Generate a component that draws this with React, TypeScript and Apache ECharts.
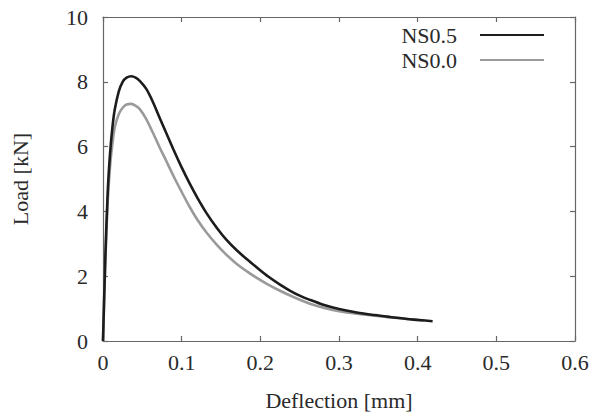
import React, { useEffect, useRef } from "react";
import * as echarts from "echarts";

const seriesNames = ["NS0.5", "NS0.0"];
const xTicks = { min: 0, max: 0.6, interval: 0.1 };
const yTicks = { min: 0, max: 10, interval: 2 };

const ns05: [number, number][] = [
  [0, 0], [0.003, 2.6], [0.006, 4.6], [0.009, 5.8], [0.012, 6.6], [0.015, 7.15],
  [0.02, 7.7], [0.025, 8.0], [0.03, 8.13], [0.036, 8.17], [0.042, 8.12], [0.047, 8.02],
  [0.055, 7.78], [0.063, 7.4], [0.0725, 6.86], [0.08, 6.44], [0.0894, 5.92], [0.1, 5.36],
  [0.1106, 4.84], [0.12, 4.42], [0.1318, 3.94], [0.145, 3.48], [0.157, 3.12], [0.17, 2.8],
  [0.183, 2.52], [0.196, 2.26], [0.21, 1.99], [0.225, 1.74], [0.238, 1.55], [0.25, 1.4],
  [0.263, 1.27], [0.28, 1.12], [0.3, 0.99], [0.3225, 0.88], [0.345, 0.8], [0.365, 0.74],
  [0.39, 0.67], [0.419, 0.61],
];

const ns00: [number, number][] = [
  [0, 0], [0.003, 2.5], [0.006, 4.3], [0.009, 5.4], [0.012, 6.1], [0.015, 6.6],
  [0.02, 7.0], [0.025, 7.2], [0.03, 7.3], [0.036, 7.32], [0.042, 7.25], [0.047, 7.15],
  [0.055, 6.85], [0.063, 6.45], [0.0725, 5.95], [0.08, 5.58], [0.0894, 5.1], [0.1, 4.6],
  [0.1106, 4.12], [0.12, 3.74], [0.1318, 3.34], [0.145, 2.96], [0.157, 2.66], [0.17, 2.38],
  [0.183, 2.15], [0.196, 1.94], [0.21, 1.74], [0.225, 1.55], [0.24, 1.38], [0.263, 1.15],
  [0.28, 1.03], [0.3, 0.92], [0.3225, 0.84], [0.345, 0.78], [0.365, 0.73], [0.39, 0.67],
  [0.407, 0.63],
];

const FONT = "'Liberation Serif', 'Times New Roman', Times, serif";
const TEXT = "#2a2a2a";
const AXIS = "#666";

export default function App() {
  const ref = useRef<HTMLDivElement>(null);
  useEffect(() => {
    if (!ref.current) return;
    const chart = echarts.init(ref.current, undefined, { renderer: "svg" });
    const axisCommon = {
      type: "value" as const,
      splitLine: { show: false },
      axisLine: { show: true, onZero: false, lineStyle: { color: AXIS, width: 1.2 } },
      axisTick: { show: true, inside: true, length: 5, lineStyle: { color: AXIS, width: 1.2 } },
    };
    const labelStyle = { color: TEXT, fontFamily: FONT, fontSize: 22 };
    chart.setOption({
      animation: false,
      backgroundColor: "#fff",
      grid: { left: 103, right: 20, top: 17, bottom: 73 },
      legend: {
        right: 46,
        top: 19,
        orient: "vertical",
        align: "right",
        itemWidth: 64,
        itemHeight: 14,
        itemGap: 3,
        icon: "path://M0,6 L64,6 L64,8 L0,8 Z",
        textStyle: { ...labelStyle, padding: [0, 18, 0, 0] },
        data: seriesNames,
      },
      xAxis: [
        {
          ...axisCommon,
          ...xTicks,
          position: "bottom",
          name: "Deflection [mm]",
          nameLocation: "middle",
          nameGap: 48,
          nameTextStyle: labelStyle,
          axisLabel: { ...labelStyle, margin: 10, formatter: (v: number) => String(Math.round(v * 10) / 10) },
        },
        {
          ...axisCommon,
          ...xTicks,
          position: "top",
          axisLabel: { show: false },
        },
      ],
      yAxis: [
        {
          ...axisCommon,
          ...yTicks,
          position: "left",
          name: "Load [kN]",
          nameLocation: "middle",
          nameGap: 72,
          nameTextStyle: labelStyle,
          axisLabel: { ...labelStyle, margin: 15 },
        },
        {
          ...axisCommon,
          ...yTicks,
          position: "right",
          axisLabel: { show: false },
        },
      ],
      series: [
        {
          name: seriesNames[0],
          type: "line",
          data: ns05,
          showSymbol: false,
          smooth: 0.3,
          lineStyle: { color: "#1c1c1c", width: 2.6 },
          itemStyle: { color: "#1c1c1c" },
          z: 3,
        },
        {
          name: seriesNames[1],
          type: "line",
          data: ns00,
          showSymbol: false,
          smooth: 0.3,
          lineStyle: { color: "#9a9a9a", width: 2.6 },
          itemStyle: { color: "#9a9a9a" },
          z: 2,
        },
      ],
    });
    return () => chart.dispose();
  }, []);
  return <div ref={ref} style={{ width: 595, height: 416, position: "absolute", left: 0, top: 0 }} />;
}
